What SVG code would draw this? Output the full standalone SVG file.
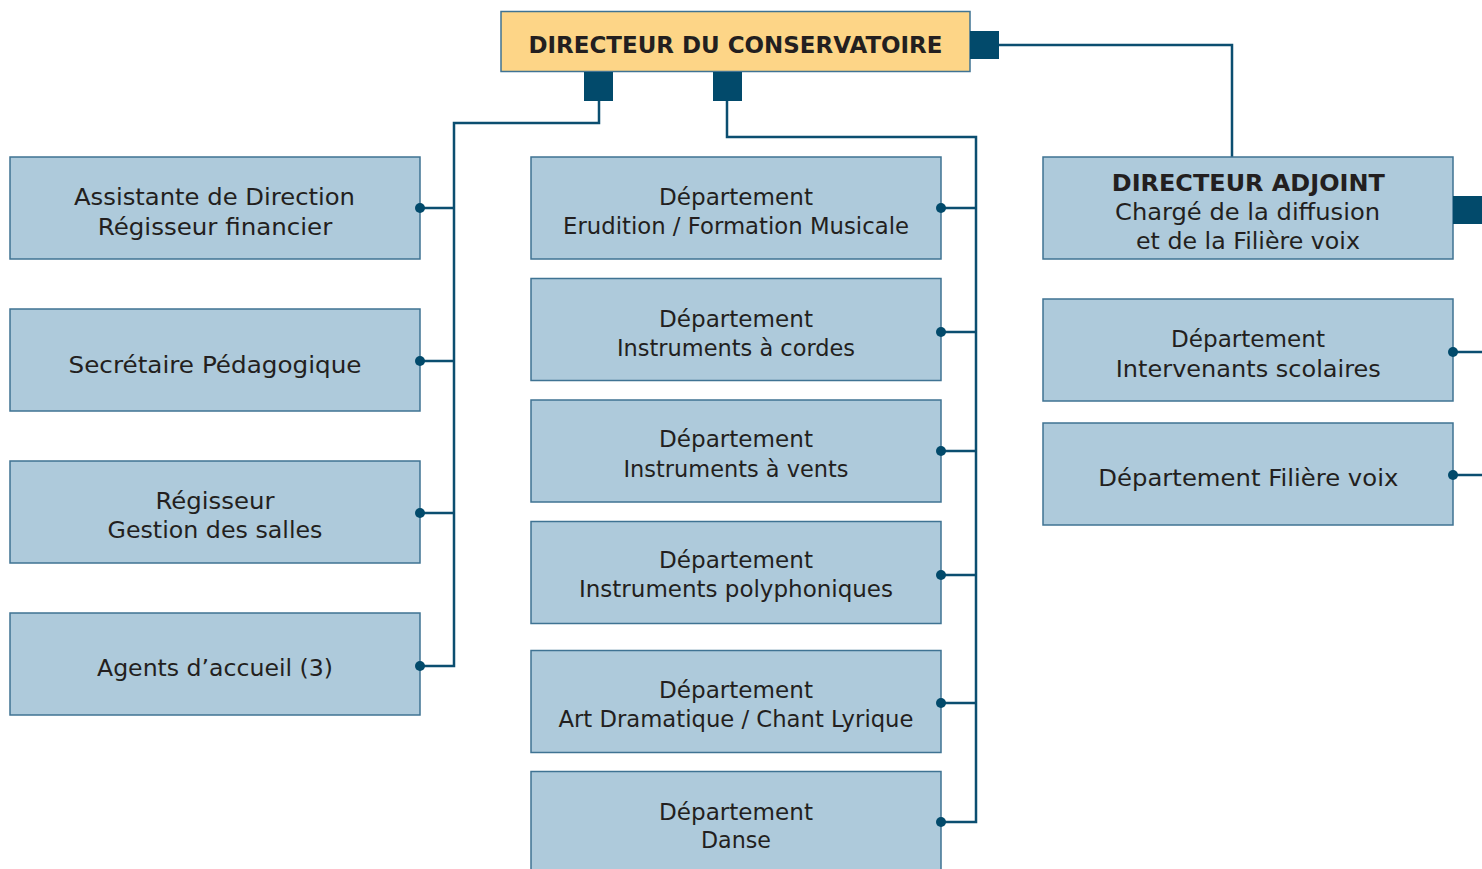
<svg xmlns="http://www.w3.org/2000/svg" width="1482" height="869" viewBox="0 0 1482 869">
<style>
.box{fill:#aecadb;stroke:#3f7393;stroke-width:1.5}
.top{fill:#fdd587;stroke:#3f7393;stroke-width:1.5}
.sq{fill:#024a6b}
.ln{fill:none;stroke:#0b4e70;stroke-width:2.5}
.dot{fill:#024a6b}
text{font-family:"DejaVu Sans","Open Sans",sans-serif;font-size:22.5px;fill:#231f20;text-anchor:middle}
.b{font-weight:bold;font-size:23.5px}
</style>
<rect width="1482" height="869" fill="#ffffff"/>
<g id="connectors">
<polyline class="ln" points="599,100 599,123 454,123 454,666 420,666"/>
<line class="ln" x1="454" y1="208" x2="420" y2="208"/>
<line class="ln" x1="454" y1="361" x2="420" y2="361"/>
<line class="ln" x1="454" y1="513" x2="420" y2="513"/>
<polyline class="ln" points="727,100 727,137 976,137 976,822 941,822"/>
<line class="ln" x1="976" y1="208" x2="941" y2="208"/>
<line class="ln" x1="976" y1="332" x2="941" y2="332"/>
<line class="ln" x1="976" y1="451" x2="941" y2="451"/>
<line class="ln" x1="976" y1="575" x2="941" y2="575"/>
<line class="ln" x1="976" y1="703" x2="941" y2="703"/>
<polyline class="ln" points="998,45 1232,45 1232,157"/>
<line class="ln" x1="1453" y1="352" x2="1482" y2="352"/>
<line class="ln" x1="1453" y1="475" x2="1482" y2="475"/>
</g>
<g id="directeur">
<rect class="top" x="501" y="11.5" width="469" height="60"/>
<text class="b" x="735.5" y="53.3" textLength="414" lengthAdjust="spacingAndGlyphs">DIRECTEUR DU CONSERVATOIRE</text>
<rect class="sq" x="584" y="72" width="29" height="29"/>
<rect class="sq" x="713" y="72" width="29" height="29"/>
<rect class="sq" x="970" y="31" width="29" height="28"/>
</g>
<g id="assistante">
<rect class="box" x="10" y="157" width="410" height="102"/>
<text x="214.5" y="204.5" textLength="281" lengthAdjust="spacingAndGlyphs">Assistante de Direction</text>
<text x="215" y="234.5" textLength="234.5" lengthAdjust="spacingAndGlyphs">Régisseur financier</text>
<circle class="dot" cx="420" cy="208" r="5"/>
</g>
<g id="secretaire">
<rect class="box" x="10" y="309" width="410" height="102"/>
<text x="215" y="372.5" textLength="293" lengthAdjust="spacingAndGlyphs">Secrétaire Pédagogique</text>
<circle class="dot" cx="420" cy="361" r="5"/>
</g>
<g id="regisseur">
<rect class="box" x="10" y="461" width="410" height="102"/>
<text x="215" y="509" textLength="119" lengthAdjust="spacingAndGlyphs">Régisseur</text>
<text x="215" y="537.5" textLength="215" lengthAdjust="spacingAndGlyphs">Gestion des salles</text>
<circle class="dot" cx="420" cy="513" r="5"/>
</g>
<g id="agents">
<rect class="box" x="10" y="613" width="410" height="102"/>
<text x="215" y="675.5" textLength="236" lengthAdjust="spacingAndGlyphs">Agents d’accueil (3)</text>
<circle class="dot" cx="420" cy="666" r="5"/>
</g>
<g id="dep-erudition">
<rect class="box" x="531" y="157" width="410" height="102"/>
<text x="736" y="205" textLength="154" lengthAdjust="spacingAndGlyphs">Département</text>
<text x="736" y="234.3" textLength="346" lengthAdjust="spacingAndGlyphs">Erudition / Formation Musicale</text>
<circle class="dot" cx="941" cy="208" r="5"/>
</g>
<g id="dep-cordes">
<rect class="box" x="531" y="278.5" width="410" height="102"/>
<text x="736" y="326.7" textLength="154" lengthAdjust="spacingAndGlyphs">Département</text>
<text x="736" y="355.7" textLength="238" lengthAdjust="spacingAndGlyphs">Instruments à cordes</text>
<circle class="dot" cx="941" cy="332" r="5"/>
</g>
<g id="dep-vents">
<rect class="box" x="531" y="400" width="410" height="102"/>
<text x="736" y="447.3" textLength="154" lengthAdjust="spacingAndGlyphs">Département</text>
<text x="736" y="476.7" textLength="225" lengthAdjust="spacingAndGlyphs">Instruments à vents</text>
<circle class="dot" cx="941" cy="451" r="5"/>
</g>
<g id="dep-polyphoniques">
<rect class="box" x="531" y="521.5" width="410" height="102"/>
<text x="736" y="568.3" textLength="154" lengthAdjust="spacingAndGlyphs">Département</text>
<text x="736" y="597.3" textLength="314" lengthAdjust="spacingAndGlyphs">Instruments polyphoniques</text>
<circle class="dot" cx="941" cy="575" r="5"/>
</g>
<g id="dep-art-dramatique">
<rect class="box" x="531" y="650.5" width="410" height="102"/>
<text x="736" y="697.5" textLength="154" lengthAdjust="spacingAndGlyphs">Département</text>
<text x="736" y="727" textLength="355" lengthAdjust="spacingAndGlyphs">Art Dramatique / Chant Lyrique</text>
<circle class="dot" cx="941" cy="703" r="5"/>
</g>
<g id="dep-danse">
<rect class="box" x="531" y="771.5" width="410" height="102"/>
<text x="736" y="820" textLength="154" lengthAdjust="spacingAndGlyphs">Département</text>
<text x="736" y="848.3" textLength="70" lengthAdjust="spacingAndGlyphs">Danse</text>
<circle class="dot" cx="941" cy="822" r="5"/>
</g>
<g id="directeur-adjoint">
<rect class="box" x="1043" y="157" width="410" height="102"/>
<text class="b" x="1248.3" y="191" textLength="273" lengthAdjust="spacingAndGlyphs">DIRECTEUR ADJOINT</text>
<text x="1247.5" y="220" textLength="265" lengthAdjust="spacingAndGlyphs">Chargé de la diffusion</text>
<text x="1248" y="248.5" textLength="224" lengthAdjust="spacingAndGlyphs">et de la Filière voix</text>
<rect class="sq" x="1453" y="196" width="29" height="28"/>
</g>
<g id="dep-intervenants">
<rect class="box" x="1043" y="299" width="410" height="102"/>
<text x="1248" y="347.3" textLength="154" lengthAdjust="spacingAndGlyphs">Département</text>
<text x="1248.3" y="376.7" textLength="265" lengthAdjust="spacingAndGlyphs">Intervenants scolaires</text>
<circle class="dot" cx="1453" cy="352" r="5"/>
</g>
<g id="dep-filiere">
<rect class="box" x="1043" y="423" width="410" height="102"/>
<text x="1248.3" y="485.7" textLength="300" lengthAdjust="spacingAndGlyphs">Département Filière voix</text>
<circle class="dot" cx="1453" cy="475" r="5"/>
</g>
</svg>
